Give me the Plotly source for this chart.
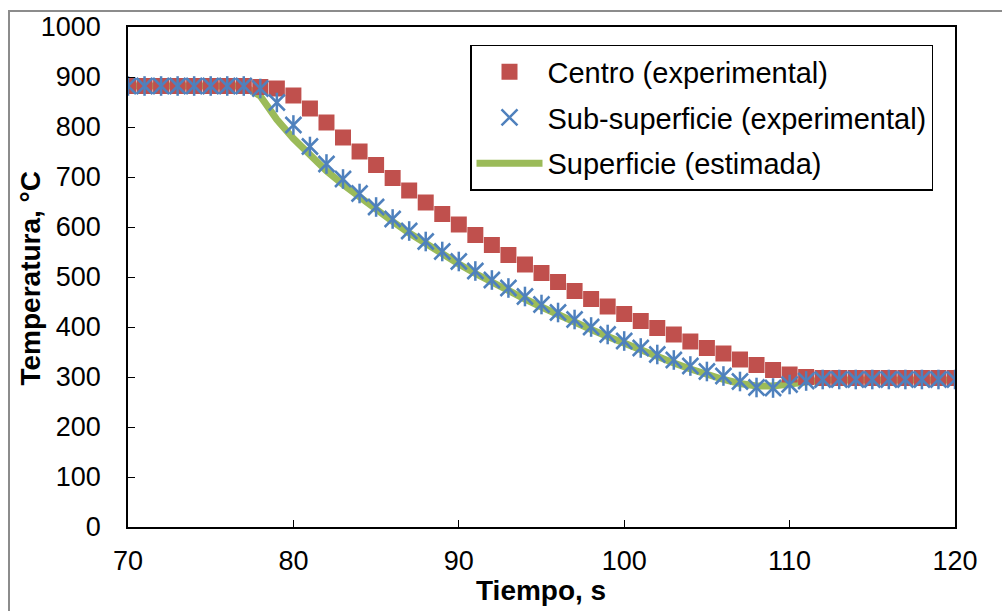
import plotly.graph_objects as go

tiempo = list(range(70, 121))

centro = [882, 882, 882, 882, 882, 882, 882, 882, 880, 877,
          863, 837, 809, 779, 751, 724, 698, 673, 649, 626,
          605, 584, 564, 544, 525, 508, 490, 472, 456, 441,
          426, 412, 398, 385, 371, 358, 347, 335, 324, 314,
          305, 300, 298, 298, 298, 298, 298, 298, 298, 298, 298]

sub_superficie = [882, 882, 882, 882, 882, 882, 882, 882, 877, 849,
                  804, 761, 726, 696, 667, 640, 616, 592, 571, 551,
                  531, 512, 494, 478, 461, 445, 429, 415, 400, 385,
                  372, 358, 345, 334, 322, 311, 302, 291, 279, 278,
                  285, 292, 295, 295, 295, 295, 295, 295, 295, 295, 295]

superficie = [882, 882, 882, 882, 882, 882, 882, 882, 862, 815,
              777, 742, 712, 685, 659, 634, 611, 588, 566, 546,
              526, 507, 489, 472, 456, 440, 424, 410, 395, 381,
              367, 353, 340, 328, 316, 305, 295, 287, 282, 282,
              286, 291, 294, 294, 294, 294, 294, 294, 294, 294, 294]

x_ticks = [70, 80, 90, 100, 110, 120]
y_ticks = [0, 100, 200, 300, 400, 500, 600, 700, 800, 900, 1000]

RED = "#C0504D"
BLUE = "#4F81BD"
GREEN = "#9BBB59"
FONT = "Liberation Sans, Arial, sans-serif"

fig = go.Figure()

fig.add_trace(go.Scatter(
    x=tiempo, y=superficie, mode="lines", name="Superficie (estimada)",
    line=dict(color=GREEN, width=7), legendgroup="c", legendrank=3,
))
fig.add_trace(go.Scatter(
    x=tiempo, y=centro, mode="markers", name="Centro (experimental)",
    marker=dict(symbol="square", size=16, color=RED, line=dict(width=0)),
    legendgroup="a", legendrank=1,
))
fig.add_trace(go.Scatter(
    x=tiempo, y=sub_superficie, mode="markers", name="Sub-superficie (experimental)",
    marker=dict(symbol="x-thin-open", size=16, color=BLUE, line=dict(width=2.5, color=BLUE)),
    legendgroup="b", legendrank=2,
))
fig.add_trace(go.Scatter(
    x=tiempo, y=sub_superficie, mode="markers", name="Sub-superficie (experimental)",
    marker=dict(symbol="line-ns-open", size=14, color=BLUE, line=dict(width=2.5, color=BLUE)),
    legendgroup="b", showlegend=False, hoverinfo="skip",
))

L, R, T, B = 128, 47, 24, 84
W, H = 1002, 611
pw, ph = W - L - R, H - T - B

def px_x(p):
    return (p - L) / pw

def px_y(p):
    return (H - B - p) / ph

fig.update_layout(
    width=W, height=H,
    margin=dict(l=L, r=R, t=T, b=B),
    paper_bgcolor="white", plot_bgcolor="white",
    font=dict(family=FONT, size=27, color="black"),
    showlegend=True,
    legend=dict(
        x=px_x(470), y=px_y(42), xanchor="left", yanchor="top",
        bgcolor="white", bordercolor="black", borderwidth=1.5,
        font=dict(family=FONT, size=29, color="black"),
        traceorder="grouped", tracegroupgap=5, itemwidth=66,
    ),
    xaxis=dict(
        range=[70, 120], tickvals=x_ticks, ticks="inside", ticklen=7,
        tickwidth=1, tickcolor="black", showgrid=False, zeroline=False,
        showline=True, linecolor="black", linewidth=1.5, mirror=True,
        ticklabelstandoff=9, tickfont=dict(size=27),
    ),
    yaxis=dict(
        range=[0, 1000], tickvals=y_ticks, ticks="inside", ticklen=7,
        tickwidth=1, tickcolor="black", showgrid=False, zeroline=False,
        showline=True, linecolor="black", linewidth=1.5, mirror=True,
        ticklabelstandoff=20, tickfont=dict(size=27),
    ),
    annotations=[
        dict(text="<b>Temperatura, °C</b>", xref="paper", yref="paper",
             x=px_x(30), y=px_y(277), textangle=-90, showarrow=False,
             xanchor="center", yanchor="middle", font=dict(family=FONT, size=28)),
        dict(text="<b>Tiempo, s</b>", xref="paper", yref="paper",
             x=px_x(541), y=px_y(591), showarrow=False,
             xanchor="center", yanchor="middle", font=dict(family=FONT, size=28)),
    ],
    shapes=[
        dict(type="rect", xref="paper", yref="paper",
             x0=px_x(9), x1=px_x(1012), y0=px_y(622), y1=px_y(8),
             line=dict(color="#8C8C8C", width=2), layer="below"),
    ],
)

fig.write_html("out.html")
